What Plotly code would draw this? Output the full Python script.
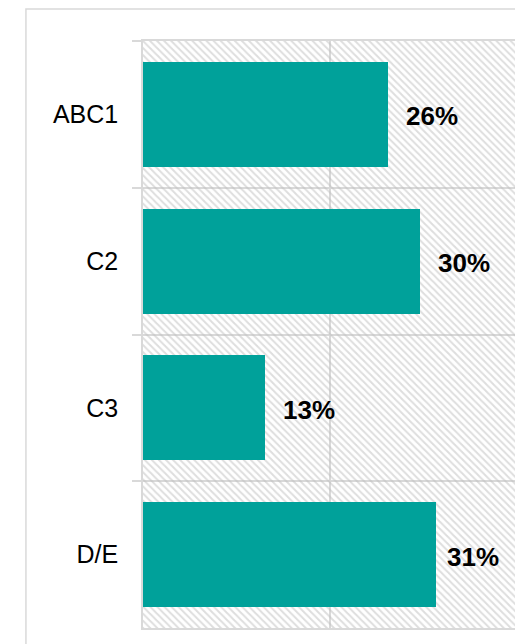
import plotly.graph_objects as go

categories = ["ABC1", "C2", "C3", "D/E"]
values = [26.2, 29.6, 13.05, 31.3]
labels = ["26%", "30%", "13%", "31%"]
XMAX = 40

# label offsets (style, px)
label_shifts = [16, 16, 16, 9]

TEAL = "#00a19a"
GRID = "#d9d9d9"
FONT = "Liberation Sans, Arial, sans-serif"

fig = go.Figure()
# hatched background band behind each category
fig.add_trace(go.Bar(
    y=categories, x=[XMAX] * len(categories), orientation="h", width=1,
    marker=dict(color="rgba(0,0,0,0)", line=dict(width=0),
                pattern=dict(shape="\\", fgcolor="#bdbdbd", bgcolor="rgba(0,0,0,0)",
                             size=5, solidity=0.4)),
    hoverinfo="skip", showlegend=False,
))
fig.add_trace(go.Bar(
    y=categories, x=values, orientation="h", width=0.715,
    marker=dict(color=TEAL, line=dict(width=0)), showlegend=False,
))
for c, v, t, s in zip(categories, values, labels, label_shifts):
    fig.add_annotation(x=v, y=c, text=f"<b>{t}</b>", showarrow=False,
                       xanchor="left", xshift=s, yshift=-2,
                       font=dict(family=FONT, size=26, color="black"))

fig.add_shape(type="rect", xref="paper", yref="paper",
              x0=-0.313, x1=1.0134, y0=-0.2, y1=1.0545,
              line=dict(color=GRID, width=1.5), fillcolor="rgba(0,0,0,0)", layer="below")

fig.update_layout(
    width=523, height=644,
    margin=dict(l=135, r=14, t=33, b=24),
    barmode="overlay", bargap=0,
    paper_bgcolor="white", plot_bgcolor="white",
    font=dict(family=FONT, size=25, color="black"),
    xaxis=dict(range=[0, XMAX], dtick=20, showticklabels=False, showgrid=True,
               gridcolor=GRID, gridwidth=1.5, zeroline=False,
               showline=True, mirror=True, linecolor=GRID, linewidth=1.5),
    yaxis=dict(autorange="reversed", tickson="boundaries", ticks="outside",
               ticklen=9, tickwidth=1.5, tickcolor=GRID, showgrid=True,
               gridcolor=GRID, gridwidth=1.5, showline=True, mirror=True,
               linecolor=GRID, linewidth=1.5, ticklabelstandoff=18,
               tickfont=dict(family=FONT, size=25, color="black")),
)

fig.write_html("out.html")
